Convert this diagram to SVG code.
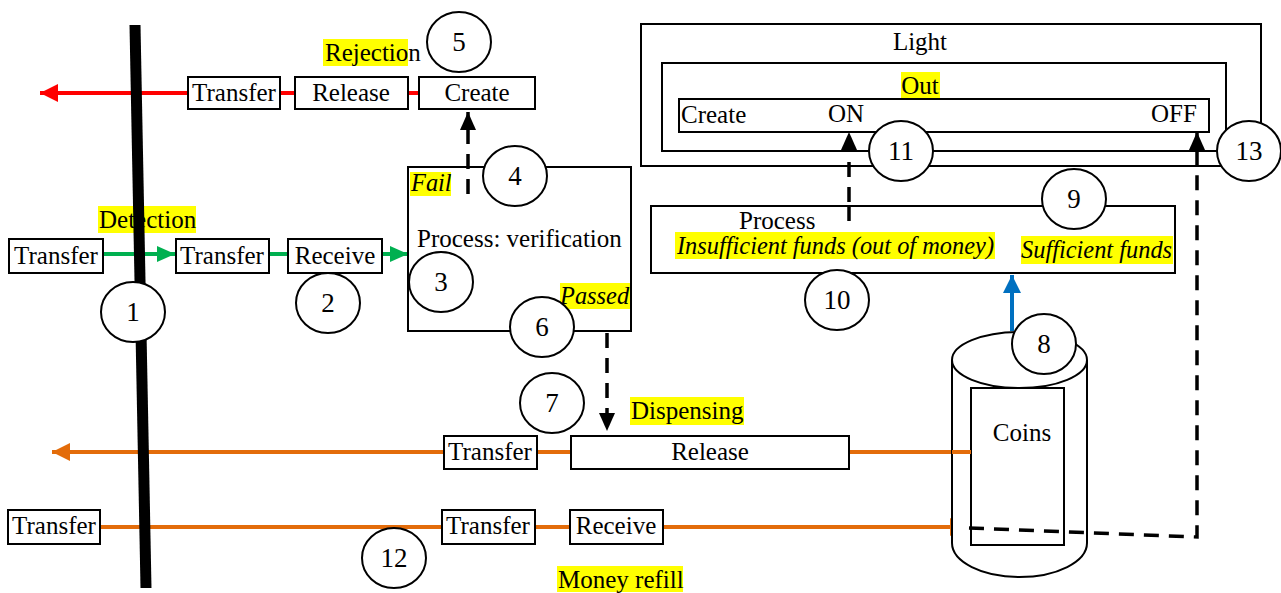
<svg xmlns="http://www.w3.org/2000/svg" width="1281" height="593" viewBox="0 0 1281 593">
<style>
.bx{fill:#fff;stroke:#000;stroke-width:2}
.fr{fill:none;stroke:#000;stroke-width:2}
.t{font-family:'Liberation Serif','Times New Roman',serif;font-size:25px;fill:#000}
.i{font-style:italic;font-size:24.4px}
.n{font-family:'Liberation Serif','Times New Roman',serif;font-size:27px;fill:#000;text-anchor:middle}
.c{text-anchor:middle}
.hl{fill:#ffff00}
.cir{fill:#fff;stroke:#000;stroke-width:2}
.red{stroke:#ff0000;stroke-width:4;fill:none}
.grn{stroke:#00b050;stroke-width:4;fill:none}
.org{stroke:#e36c0a;stroke-width:4;fill:none}
.blu{stroke:#0070c0;stroke-width:4;fill:none}
.dsh{stroke:#000;stroke-width:3.5;fill:none;stroke-dasharray:15 10}
</style>
<defs>
<marker id="aR" markerUnits="userSpaceOnUse" markerWidth="20" markerHeight="20" refX="18" refY="9" orient="auto"><path d="M0,0 L18,9 L0,18 Z" fill="#ff0000"/></marker>
<marker id="aG" markerUnits="userSpaceOnUse" markerWidth="20" markerHeight="20" refX="18" refY="8" orient="auto"><path d="M0,0 L18,8 L0,16 Z" fill="#00b050"/></marker>
<marker id="aO" markerUnits="userSpaceOnUse" markerWidth="20" markerHeight="20" refX="18" refY="9" orient="auto"><path d="M0,0 L18,9 L0,18 Z" fill="#e36c0a"/></marker>
<marker id="aB" markerUnits="userSpaceOnUse" markerWidth="20" markerHeight="20" refX="18" refY="9" orient="auto"><path d="M0,0 L18,9 L0,18 Z" fill="#0070c0"/></marker>
<marker id="aK" markerUnits="userSpaceOnUse" markerWidth="20" markerHeight="20" refX="18" refY="8" orient="auto"><path d="M0,0 L18,8 L0,16 Z" fill="#000"/></marker>
</defs>

<!-- highlighted labels -->
<g id="lbl-rejection"><rect class="hl" x="323" y="39" width="85" height="27"/><text class="t" x="325" y="61">Rejection</text></g>
<g id="lbl-detection"><rect class="hl" x="98" y="206" width="98" height="27"/><text class="t" x="99" y="228">Detection</text></g>
<g id="lbl-dispensing"><rect class="hl" x="630" y="397" width="114" height="28"/><text class="t" x="631" y="419">Dispensing</text></g>
<g id="lbl-refill"><rect class="hl" x="557" y="566" width="126" height="26"/><text class="t" x="558" y="588">Money refill</text></g>

<!-- connectors -->
<g id="connectors">
<line class="red" x1="188" y1="93" x2="40" y2="93" marker-end="url(#aR)"/>
<line class="red" x1="280" y1="93" x2="295" y2="93"/>
<line class="red" x1="408" y1="93" x2="419" y2="93"/>
<line class="grn" x1="103" y1="254" x2="175" y2="254" marker-end="url(#aG)"/>
<line class="grn" x1="269" y1="254" x2="288" y2="254"/>
<line class="grn" x1="382" y1="254" x2="408" y2="254" marker-end="url(#aG)"/>
<line class="org" x1="444" y1="452" x2="52" y2="452" marker-end="url(#aO)"/>
<line class="org" x1="537" y1="452" x2="571" y2="452"/>
<line class="org" x1="849" y1="452" x2="971" y2="452"/>
<line class="org" x1="100" y1="527" x2="442" y2="527"/>
<line class="org" x1="535" y1="527" x2="570" y2="527"/>
<line class="org" x1="663" y1="527" x2="968" y2="527" marker-end="url(#aO)"/>
<line class="blu" x1="1012" y1="331" x2="1012" y2="275" marker-end="url(#aB)"/>
<line class="dsh" x1="468" y1="194" x2="468" y2="112" marker-end="url(#aK)"/>
<line class="dsh" x1="607" y1="333" x2="607" y2="431" marker-end="url(#aK)"/>
<line class="dsh" x1="849" y1="227" x2="849" y2="132" marker-end="url(#aK)"/>
</g>

<!-- boundary bar -->
<g id="bar"><line x1="135" y1="25" x2="146" y2="588" stroke="#000" stroke-width="11"/></g>

<!-- top row -->
<g id="n-transfer-r"><rect class="bx" x="188" y="77" width="92" height="32"/><text class="t c" x="234" y="101">Transfer</text></g>
<g id="n-release-r"><rect class="bx" x="295" y="77" width="113" height="32"/><text class="t c" x="351" y="101">Release</text></g>
<g id="n-create-r"><rect class="bx" x="419" y="77" width="116" height="32"/><text class="t c" x="477" y="101">Create</text></g>

<!-- detection row -->
<g id="n-transfer-d1"><rect class="bx" x="9" y="239" width="94" height="34"/><text class="t c" x="56" y="264">Transfer</text></g>
<g id="n-transfer-d2"><rect class="bx" x="176" y="239" width="93" height="34"/><text class="t c" x="222" y="264">Transfer</text></g>
<g id="n-receive-d"><rect class="bx" x="288" y="239" width="94" height="34"/><text class="t c" x="335" y="264">Receive</text></g>

<!-- verification -->
<g id="n-verify"><rect class="fr" x="408" y="167" width="223" height="164"/>
<rect class="hl" x="410" y="172" width="41" height="24"/><text class="t i" x="411" y="191">Fail</text>
<text class="t" x="417" y="247">Process: verification</text>
<rect class="hl" x="560" y="283" width="70" height="26"/><text class="t i" x="560" y="304">Passed</text></g>

<!-- dispensing row -->
<g id="n-transfer-o"><rect class="bx" x="444" y="436" width="93" height="33"/><text class="t c" x="490" y="460">Transfer</text></g>
<g id="n-release-o"><rect class="bx" x="571" y="436" width="278" height="33"/><text class="t c" x="710" y="460">Release</text></g>

<!-- refill row -->
<g id="n-transfer-f1"><rect class="bx" x="8" y="510" width="92" height="34"/><text class="t c" x="54" y="534">Transfer</text></g>
<g id="n-transfer-f2"><rect class="bx" x="442" y="510" width="93" height="34"/><text class="t c" x="488" y="534">Transfer</text></g>
<g id="n-receive-f"><rect class="bx" x="570" y="510" width="93" height="34"/><text class="t c" x="616" y="534">Receive</text></g>

<!-- light -->
<g id="n-light"><rect class="fr" x="641" y="24" width="620" height="142"/><text class="t c" x="920" y="50">Light</text></g>
<g id="n-out"><rect class="fr" x="662" y="63" width="564" height="88"/><rect class="hl" x="901" y="72" width="39" height="27"/><text class="t c" x="920" y="94">Out</text></g>
<g id="n-create-l"><rect class="fr" x="679" y="99" width="530" height="33"/>
<text class="t" x="681" y="123">Create</text><text class="t" x="828" y="122">ON</text><text class="t" x="1151" y="122">OFF</text></g>

<!-- process funds -->
<g id="n-process"><rect class="bx" x="651" y="206" width="524" height="67"/>
<line class="dsh" x1="849" y1="206" x2="849" y2="227"/>
<text class="t" x="739" y="229">Process</text>
<rect class="hl" x="675" y="232" width="320" height="27"/><text class="t i" x="677" y="254">Insufficient funds (out of money)</text>
<rect class="hl" x="1021" y="236" width="152" height="28"/><text class="t i" x="1021" y="258">Sufficient funds</text></g>

<!-- coins cylinder -->
<g id="n-coins">
<path d="M952,360 L952,543 A67.5,34 0 0 0 1087,543 L1087,360" fill="#fff" stroke="#000" stroke-width="2"/>
<ellipse cx="1019.5" cy="360" rx="67.5" ry="28" fill="#fff" stroke="#000" stroke-width="2"/>
<rect class="fr" x="971" y="388" width="93" height="157"/>
<text class="t c" x="1022" y="441">Coins</text>
</g>
<line class="org" x1="952" y1="452" x2="971" y2="452"/>
<polyline class="dsh" points="969,528 1197,537 1197,132" marker-end="url(#aK)"/>

<!-- numbered circles -->
<g id="c1"><ellipse class="cir" cx="133" cy="312" rx="32" ry="30"/><text class="n" x="133" y="321">1</text></g>
<g id="c2"><ellipse class="cir" cx="328" cy="303" rx="32" ry="30"/><text class="n" x="328" y="312">2</text></g>
<g id="c3"><ellipse class="cir" cx="441" cy="282" rx="32" ry="30"/><text class="n" x="441" y="291">3</text></g>
<g id="c4"><ellipse class="cir" cx="515" cy="176" rx="32" ry="30"/><text class="n" x="515" y="185">4</text></g>
<g id="c5"><ellipse class="cir" cx="459" cy="42" rx="32" ry="30"/><text class="n" x="459" y="51">5</text></g>
<g id="c6"><ellipse class="cir" cx="542" cy="327" rx="32" ry="30"/><text class="n" x="542" y="336">6</text></g>
<g id="c7"><ellipse class="cir" cx="552" cy="403" rx="32" ry="30"/><text class="n" x="552" y="412">7</text></g>
<g id="c8"><ellipse class="cir" cx="1044" cy="344" rx="32" ry="30"/><text class="n" x="1044" y="353">8</text></g>
<g id="c9"><ellipse class="cir" cx="1074" cy="199" rx="32" ry="30"/><text class="n" x="1074" y="208">9</text></g>
<g id="c10"><ellipse class="cir" cx="837" cy="300" rx="32" ry="30"/><text class="n" x="837" y="309">10</text></g>
<g id="c11"><ellipse class="cir" cx="901" cy="151" rx="32" ry="30"/><text class="n" x="901" y="160">11</text></g>
<g id="c12"><ellipse class="cir" cx="394" cy="558" rx="32" ry="30"/><text class="n" x="394" y="567">12</text></g>
<g id="c13"><ellipse class="cir" cx="1249" cy="151" rx="32" ry="30"/><text class="n" x="1249" y="160">13</text></g>
</svg>
